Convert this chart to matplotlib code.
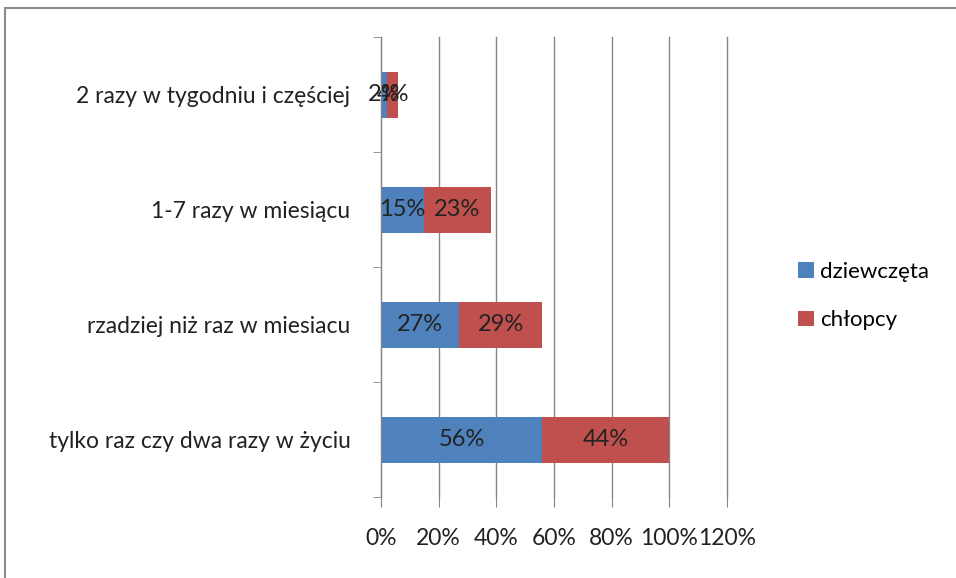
import matplotlib.pyplot as plt
import numpy as np
from matplotlib.patches import Rectangle

categories = ["tylko raz czy dwa razy w życiu", "rzadziej niż raz w miesiacu",
              "1-7 razy w miesiącu", "2 razy w tygodniu i częściej"]
dziewczeta = [56, 27, 15, 2]
chlopcy = [44, 29, 23, 4]
xticks = [0, 20, 40, 60, 80, 100, 120]

blue = "#4F81BD"
red = "#C0504D"
grid = "#868686"

plt.rcParams['font.family'] = ['Lato', 'DejaVu Sans']
fig = plt.figure(figsize=(9.56, 5.78), dpi=100)
ax = fig.add_axes([381 / 956, 1 - 497 / 578, 346 / 956, 460 / 578])

# outer frame of the chart
fig.patches.append(Rectangle((5 / 956, -0.1), 1.2, 1 - 8 / 578 + 0.1,
                             transform=fig.transFigure, fill=False,
                             edgecolor="#8c8c8c", linewidth=1.5))

y = np.arange(len(categories))
b1 = ax.barh(y, dziewczeta, height=0.4, color=blue, label="dziewczęta", zorder=3)
b2 = ax.barh(y, chlopcy, height=0.4, left=dziewczeta, color=red, label="chłopcy", zorder=3)

for bars, vals in ((b1, dziewczeta), (b2, chlopcy)):
    for bar, v in zip(bars, vals):
        ax.text(bar.get_x() + bar.get_width() / 2, bar.get_y() + bar.get_height() / 2,
                f"{v}%", ha="center", va="center", fontsize=17, color="#222222", zorder=4)

ax.set_xlim(0, 120)
ax.set_ylim(-0.5, len(categories) - 0.5)
ax.set_xticks(xticks)
ax.set_xticklabels([f"{t}%" for t in xticks])
ax.set_yticks(y)
ax.set_yticklabels(categories)
ax.set_yticks(np.arange(-0.5, len(categories)), minor=True)

ax.grid(axis="x", color=grid, linewidth=1, zorder=0)
for gl in ax.get_xgridlines():
    gl.set_clip_on(False)
for s in ["top", "right", "bottom"]:
    ax.spines[s].set_visible(False)
ax.spines["left"].set_color(grid)
ax.spines["left"].set_zorder(5)

ax.tick_params(axis="y", which="major", length=0, pad=22, labelsize=16.5, labelcolor="#222222")
ax.tick_params(axis="y", which="minor", length=6, color=grid)
ax.tick_params(axis="x", length=7, color=grid, pad=15, labelsize=16.5, labelcolor="#222222")

fig.legend(loc="center left", bbox_to_anchor=(778 / 956, 1 - 296 / 578), frameon=False,
           fontsize=16, handlelength=0.7, handleheight=0.7, labelspacing=1.3,
           handletextpad=0.3)

fig.savefig("out.png", dpi=100)
